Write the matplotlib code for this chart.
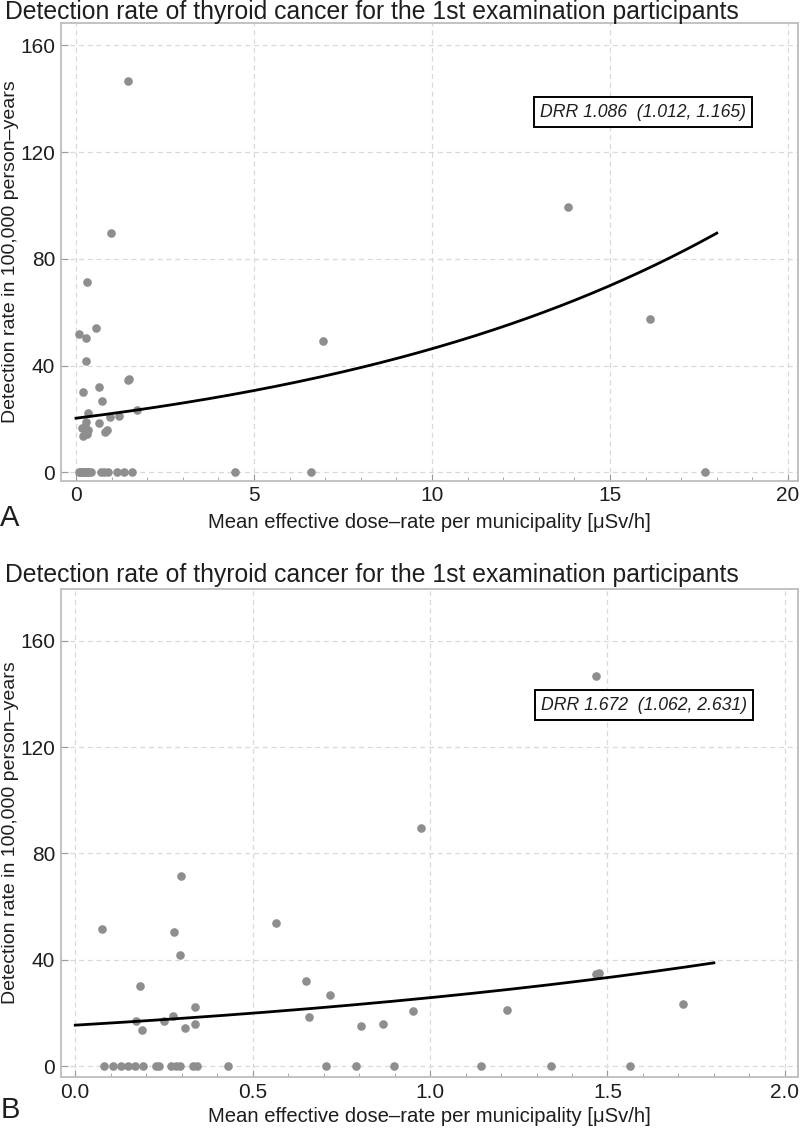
import numpy as np
import matplotlib
matplotlib.use("Agg")
import matplotlib.pyplot as plt
from matplotlib import font_manager

# Mean effective dose-rate per municipality [uSv/h] and detection rate per 100,000 person-years
doseRate = [0.075, 0.299, 0.277, 0.294, 0.183, 0.338, 0.172, 0.189, 0.25, 0.276, 0.31, 0.338,
            0.565, 0.975, 0.649, 0.719, 0.658, 0.806, 0.867, 0.951, 1.217, 1.467, 1.476, 1.712, 1.468,
            0.082, 0.105, 0.129, 0.148, 0.169, 0.192, 0.228, 0.237, 0.27, 0.284, 0.295, 0.331, 0.342,
            0.43, 0.707, 0.792, 0.897, 1.143, 1.34, 1.563,
            4.46, 6.61, 6.94, 13.81, 16.11, 17.67]
detRate = [51.7, 71.4, 50.3, 41.9, 30.0, 22.3, 16.8, 13.7, 16.9, 18.7, 14.4, 15.9,
           54.0, 89.6, 32.0, 26.7, 18.4, 15.2, 15.8, 20.6, 21.1, 34.5, 34.9, 23.3, 146.6,
           0, 0, 0, 0, 0, 0, 0, 0, 0, 0, 0, 0, 0,
           0, 0, 0, 0, 0, 0, 0,
           0, 0, 49.1, 99.25, 57.4, 0]

# Fitted models: rate = base * DRR ** dose
fitAll = dict(base=20.3, drr=1.086, lo=1.012, hi=1.165, xMax=18.0)
fitLow = dict(base=15.4, drr=1.672, lo=1.062, hi=2.631, xMax=1.8)

titleTxt = "Detection rate of thyroid cancer for the 1st examination participants"
xLabTxt = "Mean effective dose\u2013rate per municipality [\u03bcSv/h]"
yLabTxt = "Detection rate in 100,000 person\u2013years"

# Font: condensed look if available
availFonts = {f.name for f in font_manager.fontManager.ttflist}
mainFont = "Liberation Sans Narrow" if "Liberation Sans Narrow" in availFonts else "Liberation Sans"
plt.rcParams['font.family'] = [mainFont, 'DejaVu Sans']

frameCol = "#bdbdbd"
gridCol = "#d9d9d9"
dotCol = "#8e8e8e"
textCol = "#1e1e1e"


def drawPanel(fig, rect, x, y, fit, xLim, yLim, xMajor, xMinor, xFmt, boxPos, xLabY):
    ax = fig.add_axes(rect)
    ax.set_xlim(*xLim)
    ax.set_ylim(*yLim)
    ax.set_xticks(xMajor)
    ax.set_xticks(xMinor, minor=True)
    ax.set_xticklabels([xFmt.format(v) for v in xMajor])
    ax.set_yticks([0, 40, 80, 120, 160])
    ax.grid(True, which='major', color=gridCol, linestyle=(0, (4, 3)), linewidth=0.9)
    ax.set_axisbelow(True)
    for sp in ax.spines.values():
        sp.set_color(frameCol)
        sp.set_linewidth(1.3)
    ax.tick_params(axis='both', which='major', direction='in', length=5, color="#9a9a9a",
                   labelsize=15, labelcolor=textCol, pad=4)
    ax.tick_params(axis='x', which='minor', direction='in', length=3, color="#9a9a9a")
    ax.tick_params(top=False, right=False, which='both')

    ax.plot(x, y, 'o', color=dotCol, markersize=6.2, markeredgewidth=0, zorder=3)
    xs = np.linspace(0, fit['xMax'], 200)
    ax.plot(xs, fit['base'] * fit['drr'] ** xs, color='black', linewidth=2.0, zorder=4)

    ax.set_ylabel(yLabTxt, fontsize=14, color=textCol)
    ax.yaxis.set_label_coords((11 - 60.7) / 737.3, 0.5)
    ax.yaxis.label.set_verticalalignment('center')
    ax.set_xlabel(xLabTxt, fontsize=14.6, color=textCol)
    ax.xaxis.set_label_coords(0.5, xLabY)
    ax.xaxis.label.set_verticalalignment('center')

    boxTxt = "DRR {:.3f}  ({:.3f}, {:.3f})".format(fit['drr'], fit['lo'], fit['hi'])
    ax.text(boxPos[0], boxPos[1], boxTxt, transform=ax.transAxes, ha='center', va='center',
            fontsize=12.7, style='italic', color=textCol, zorder=5,
            bbox=dict(boxstyle='square,pad=0.35', facecolor='white', edgecolor='black', linewidth=1.4))
    return ax


W, H = 800, 1128
fig = plt.figure(figsize=(W / 100, H / 100), dpi=100)

# Panel A: all municipalities
axLeft, axRight = 60.7, 798
axA = drawPanel(fig, [axLeft / W, 1 - 480.7 / H, (axRight - axLeft) / W, (480.7 - 23.3) / H],
                doseRate, detRate, fitAll, (-0.43, 20.28), (-3.1, 168.2),
                [0, 5, 10, 15, 20], np.arange(0, 20.01, 1), "{:g}", (0.79, 0.806),
                (480.7 - 523) / 457.4)

# Panel B: municipalities below 2 uSv/h
lowX = [d for d in doseRate if d < 2]
lowY = [r for d, r in zip(doseRate, detRate) if d < 2]
axB = drawPanel(fig, [axLeft / W, 1 - 1077 / H, (axRight - axLeft) / W, (1077 - 589) / H],
                lowX, lowY, fitLow, (-0.041, 2.037), (-4.1, 179.5),
                [0.0, 0.5, 1.0, 1.5, 2.0], np.arange(0, 2.001, 0.1), "{:.1f}", (0.791, 0.762),
                (1077 - 1116) / 488)

fig.text(5 / W, 1 - 12 / H, titleTxt, ha='left', va='center', fontsize=17.8, color=textCol)
fig.text(5 / W, 1 - 575 / H, titleTxt, ha='left', va='center', fontsize=17.8, color=textCol)
fig.text(10 / W, 1 - 518 / H, "A", ha='center', va='center', fontsize=21, color=textCol)
fig.text(10 / W, 1 - 1110 / H, "B", ha='center', va='center', fontsize=21, color=textCol)

fig.savefig("out.png", dpi=100)
plt.close()
